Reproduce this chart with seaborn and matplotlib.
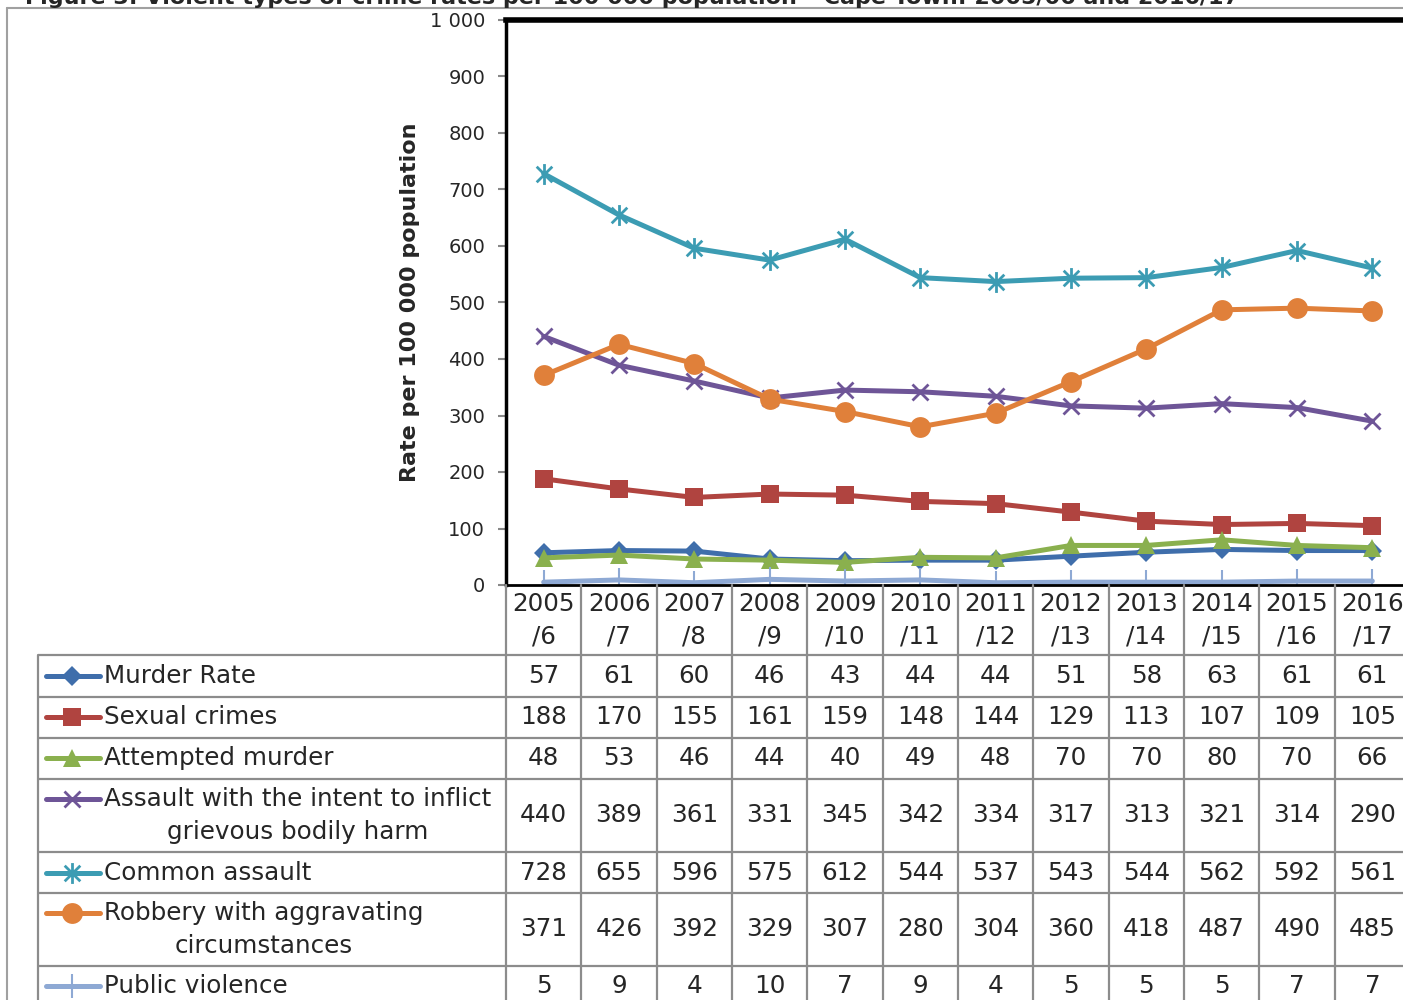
import matplotlib
matplotlib.use("Agg")
import matplotlib.pyplot as plt
from matplotlib.path import Path
from matplotlib.lines import Line2D
import seaborn as sns
import pandas as pd
import numpy as np

# ---------------- data ----------------
years = ["2005\n/6", "2006\n/7", "2007\n/8", "2008\n/9", "2009\n/10", "2010\n/11",
         "2011\n/12", "2012\n/13", "2013\n/14", "2014\n/15", "2015\n/16", "2016\n/17"]
series_names = ["Murder Rate", "Sexual crimes", "Attempted murder",
                "Assault with the intent to inflict\ngrievous bodily harm",
                "Common assault", "Robbery with aggravating\ncircumstances",
                "Public violence"]
murder = [57, 61, 60, 46, 43, 44, 44, 51, 58, 63, 61, 61]
sexual = [188, 170, 155, 161, 159, 148, 144, 129, 113, 107, 109, 105]
attempted = [48, 53, 46, 44, 40, 49, 48, 70, 70, 80, 70, 66]
assault_gbh = [440, 389, 361, 331, 345, 342, 334, 317, 313, 321, 314, 290]
common_assault = [728, 655, 596, 575, 612, 544, 537, 543, 544, 562, 592, 561]
robbery = [371, 426, 392, 329, 307, 280, 304, 360, 418, 487, 490, 485]
public_violence = [5, 9, 4, 10, 7, 9, 4, 5, 5, 5, 7, 7]
yticks = [0, 100, 200, 300, 400, 500, 600, 700, 800, 900, 1000]
ytick_labels = ["0", "100", "200", "300", "400", "500", "600", "700", "800", "900", "1 000"]
title = "Figure 3: Violent types of crime rates per 100 000 population \u2013 Cape Town: 2005/06 and 2016/17"

all_values = [murder, sexual, attempted, assault_gbh, common_assault, robbery, public_violence]

# ---------------- styles ----------------
sns.set_style("white")
plt.rcParams["font.family"] = ["DejaVu Sans"]

asterisk = Path([(0, -1), (0, 1), (-0.75, -0.75), (0.75, 0.75), (-0.75, 0.75), (0.75, -0.75)],
                [Path.MOVETO, Path.LINETO, Path.MOVETO, Path.LINETO, Path.MOVETO, Path.LINETO])
styles = [
    dict(color="#3F6EAB", marker="D", ms=10, mew=0),
    dict(color="#B04440", marker="s", ms=13, mew=0),
    dict(color="#8AB04E", marker="^", ms=13, mew=0),
    dict(color="#6E5597", marker="x", ms=11, mew=2),
    dict(color="#3C9CB3", marker=asterisk, ms=15, mew=2),
    dict(color="#E0803A", marker="o", ms=15, mew=0),
    dict(color="#8EA9D4", marker="|", ms=17, mew=1.5),
]

W, H = 1403, 1000
fig = plt.figure(figsize=(W / 100, H / 100), dpi=100)

# plot-area geometry in pixels
px_left, px_right = 506, 1410
py_top, py_bot = 20, 585
col_w = (px_right - px_left) / 12.0

ax = fig.add_axes([px_left / W, 1 - py_bot / H, (px_right - px_left) / W, (py_bot - py_top) / H])
xpos = np.arange(len(years))
for name, vals, st in zip(series_names, all_values, styles):
    df = pd.DataFrame({"x": xpos, "y": vals})
    sns.lineplot(data=df, x="x", y="y", ax=ax, color=st["color"], lw=3.6,
                 marker=st["marker"], markersize=st["ms"], markeredgewidth=st["mew"],
                 markeredgecolor=st["color"], markerfacecolor=st["color"], legend=False)

ax.set_xlim(-0.5, 11.5)
ax.set_ylim(0, 1000)
ax.set_xticks([])
ax.set_xlabel("")
ax.set_yticks(yticks)
ax.set_yticklabels(ytick_labels, fontsize=14)
ax.tick_params(axis="y", direction="out", length=6, width=1.5, color="#888888", pad=9, left=True)
ax.set_ylabel("Rate per 100 000 population", fontsize=16, fontweight="semibold")
ax.yaxis.set_label_coords((420 - px_left) / (px_right - px_left), 0.5)
ax.spines["left"].set_linewidth(2.5)
ax.spines["left"].set_color("black")
ax.spines["top"].set_linewidth(4)
ax.spines["top"].set_color("black")
ax.spines["bottom"].set_linewidth(2)
ax.spines["bottom"].set_color("black")
ax.spines["right"].set_linewidth(4)
ax.spines["right"].set_color("black")

# ---------------- data table ----------------
tbl_left = 38
x0 = -0.5 - (px_left - tbl_left) / col_w
tax = fig.add_axes([tbl_left / W, 0, (px_right - tbl_left) / W, 1 - py_bot / H])
tax.set_xlim(x0, 11.5)
tax.set_ylim(H, py_bot)
tax.axis("off")

def pxx(xp):
    return -0.5 + (xp - px_left) / col_w

grid_c = "#8C8C8C"
grid_lw = 1.6
row_lines = [655, 697, 738, 779, 852, 893, 966]
row_bounds = [(655, 697), (697, 738), (738, 779), (779, 852), (852, 893), (893, 966), (966, 1007)]
for y in row_lines:
    tax.plot([x0, 11.5], [y, y], color=grid_c, lw=grid_lw, solid_capstyle="butt", clip_on=False)
for k in range(13):
    tax.plot([-0.5 + k, -0.5 + k], [py_bot, H], color=grid_c, lw=grid_lw, clip_on=False)
tax.plot([x0, x0], [655, H], color=grid_c, lw=grid_lw, clip_on=False)

fs = 17.7
for i, lab in enumerate(years):
    tax.text(i, 620, lab, ha="center", va="center", fontsize=fs, linespacing=1.45)

for (top, bot), name, vals, st in zip(row_bounds, series_names, all_values, styles):
    cy = (top + bot) / 2
    if bot > H:
        cy = 986
    nlines = name.count("\n") + 1
    for i, v in enumerate(vals):
        tax.text(i, cy, str(v), ha="center", va="center", fontsize=fs)
    tax.text(pxx(104), cy, name, ha="left", va="center", fontsize=fs,
             multialignment="center", linespacing=1.45)
    ly = cy - (17 if nlines == 2 else 0)
    tax.plot([pxx(46), pxx(100)], [ly, ly], color=st["color"], lw=3.6,
             solid_capstyle="round", clip_on=False)
    tax.plot([pxx(72)], [ly], color=st["color"], marker=st["marker"], markersize=st["ms"],
             markeredgewidth=st["mew"], markeredgecolor=st["color"],
             markerfacecolor=st["color"], clip_on=False)

# ---------------- outer chart border & title ----------------
fig.add_artist(Line2D([7 / W, 7 / W], [0, 1 - 8 / H], color="#A0A0A0", lw=1.5))
fig.add_artist(Line2D([7 / W, 1], [1 - 8 / H, 1 - 8 / H], color="#A0A0A0", lw=1.5))
fig.text(25 / W, 1 - 4 / H, title, ha="left", va="baseline", fontsize=16, fontweight="bold")

fig.savefig("out.png", dpi=100)
